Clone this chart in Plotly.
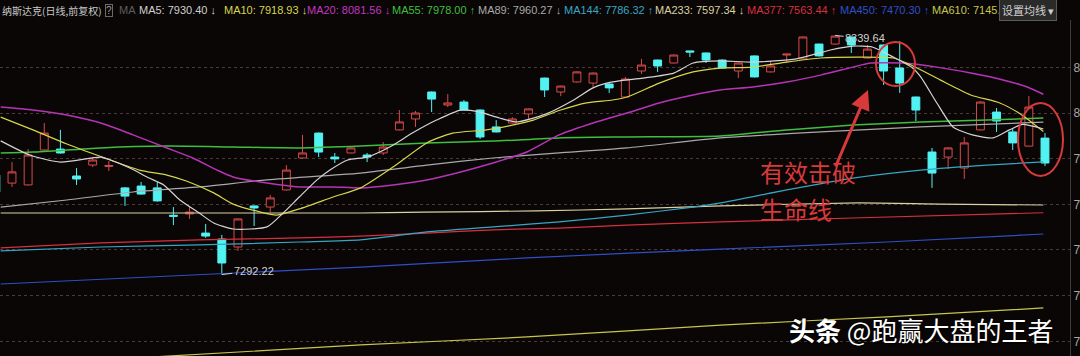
import plotly.graph_objects as go

# ---------------- data ----------------
idx = list(range(-1, 65))
opens = [7728, 7693, 7685, 7838, 7842, 7724, 7772, 7766, 7672, 7680, 7672, 7552, 7558, 7474, 7448, 7413,
         7593, 7588, 7663, 7803, 7912, 7807, 7825, 7816, 7825, 7926, 7974, 8092, 8035, 8048, 8013, 7939,
         7956, 7996, 8153, 8092, 8136, 8131, 8127, 8070, 8184, 8232, 8219, 8272, 8263, 8232, 8184, 8250,
         8180, 8254, 8237, 8302, 8302, 8333, 8241, 8298, 8197, 8070, 7829, 7807, 7759, 7926, 8004, 7917,
         7855, 7890]
highs = [7735, 7785, 7842, 7956, 7926, 7759, 7807, 7790, 7676, 7698, 7698, 7588, 7593, 7514, 7466, 7538,
         7595, 7641, 7772, 7904, 7915, 7825, 7851, 7825, 7873, 8013, 8009, 8094, 8083, 8057, 8016, 7969,
         7982, 8020, 8155, 8120, 8183, 8178, 8130, 8158, 8237, 8234, 8256, 8273, 8265, 8235, 8221, 8252,
         8228, 8259, 8335, 8304, 8339.64, 8335, 8298, 8300, 8315, 8072, 7847, 7850, 7895, 8052, 8022, 7934,
         8074, 7912]
lows = [7640, 7676, 7683, 7836, 7822, 7685, 7763, 7746, 7593, 7642, 7612, 7509, 7536, 7453, 7292.22, 7396,
        7505, 7566, 7660, 7800, 7807, 7781, 7823, 7785, 7816, 7924, 7939, 8004, 8026, 8011, 7886, 7915,
        7954, 7974, 8070, 8074, 8133, 8114, 8088, 8068, 8171, 8180, 8217, 8245, 8219, 8195, 8153, 8156,
        8178, 8219, 8235, 8248, 8300, 8263, 8239, 8123, 8088, 7965, 7672, 7755, 7711, 7924, 7917, 7838,
        7853, 7768]
closes = [7654, 7742, 7816, 7912, 7825, 7711, 7794, 7770, 7636, 7645, 7615, 7548, 7566, 7461, 7343, 7536,
          7584, 7628, 7750, 7825, 7829, 7799, 7847, 7807, 7851, 7961, 8000, 8061, 8044, 8013, 7895, 7917,
          7974, 8018, 8101, 8118, 8180, 8175, 8110, 8149, 8210, 8206, 8254, 8267, 8232, 8197, 8219, 8158,
          8206, 8258, 8333, 8250, 8337, 8298, 8280, 8184, 8131, 8013, 7737, 7847, 7869, 8048, 7965, 7869,
          8026, 7781]

ma5_x = [-0.7, 1.1, 3.0, 5.5, 6.1, 7.3, 8.5, 9.4, 10.4, 11.6, 12.5, 13.7, 15.8, 16.8, 17.8, 18.9, 19.7,
         20.8, 22.0, 23.4, 24.8, 26.3, 27.8, 29.0, 30.2, 31.3, 33.1, 34.8, 36.0, 37.2, 39.1, 41.0, 42.2,
         43.9, 45.9, 48.6, 50.7, 52.1, 53.3, 54.6, 55.8, 56.3, 57.3, 58.3, 59.5, 60.8, 61.8, 62.6, 63.9]
ma5_y = [7878, 7816, 7785, 7807, 7794, 7759, 7715, 7685, 7619, 7562, 7518, 7492, 7501, 7562, 7632, 7707,
         7750, 7794, 7807, 7851, 7912, 7969, 8013, 8004, 7978, 7961, 7996, 8057, 8110, 8136, 8153, 8175,
         8219, 8228, 8223, 8237, 8276, 8293, 8289, 8245, 8197, 8158, 8044, 7939, 7904, 7891, 7926, 7950,
         7930]

ma10_x = [-0.7, 1.3, 3.4, 6.1, 7.9, 9.6, 10.8, 12.5, 13.7, 15.4, 16.4, 17.8, 19.9, 21.6, 23.6, 25.7,
          27.3, 29.4, 31.0, 32.3, 34.0, 35.6, 37.2, 38.1, 40.1, 42.2, 43.9, 45.9, 48.0, 50.1, 52.5, 54.6,
          55.7, 57.5, 59.4, 61.2, 62.5, 63.9]
ma10_y = [7982, 7926, 7864, 7794, 7750, 7728, 7702, 7650, 7601, 7566, 7553, 7580, 7632, 7672, 7763, 7869,
          7912, 7926, 7947, 7969, 8013, 8044, 8057, 8070, 8131, 8180, 8197, 8201, 8223, 8241, 8245, 8241,
          8210, 8145, 8079, 8044, 7995, 7919]

ma20_x = [-0.7, 1.3, 3.4, 5.5, 7.5, 9.6, 11.2, 12.7, 13.7, 15.8, 17.8, 19.9, 21.6, 23.6, 25.7, 27.8,
          29.8, 31.9, 33.9, 36.0, 38.1, 40.1, 42.2, 43.9, 45.9, 48.0, 50.1, 52.1, 53.2, 55.2, 57.3, 59.4,
          61.4, 62.9, 63.9]
ma20_y = [8026, 8013, 7991, 7956, 7904, 7847, 7803, 7750, 7720, 7693, 7676, 7676, 7672, 7685, 7707, 7742,
          7781, 7829, 7904, 7956, 8000, 8044, 8079, 8101, 8114, 8136, 8166, 8201, 8219, 8219, 8201, 8175,
          8145, 8114, 8082]

ma55_x = [-0.7, 1.3, 5.5, 9.6, 13.7, 17.8, 21.6, 25.7, 29.8, 33.9, 38.1, 43.9, 48.0, 52.1, 56.3, 60.4, 63.9]
ma55_y = [7825, 7829, 7847, 7855, 7851, 7847, 7855, 7869, 7877, 7891, 7895, 7899, 7926, 7947, 7961, 7969, 7978]

ma89_x = [-0.7, 3.4, 7.5, 11.6, 15.8, 19.9, 21.6, 25.7, 29.8, 33.9, 38.1, 43.9, 50.1, 56.3, 63.9]
ma89_y = [7588, 7619, 7654, 7676, 7707, 7728, 7737, 7772, 7803, 7825, 7847, 7891, 7917, 7939, 7960]

ma144_x = [-0.7, 5.5, 11.6, 17.8, 21.6, 25.7, 29.8, 33.9, 38.1, 42.2, 43.9, 48.0, 52.1, 56.3, 60.4, 63.9]
ma144_y = [7396, 7413, 7422, 7435, 7444, 7479, 7501, 7523, 7553, 7588, 7606, 7663, 7715, 7750, 7772, 7786]

ma233_x = [-0.7, 21.6, 25.5, 32.5, 38.1, 43.9, 52.4, 57.5, 63.9]
ma233_y = [7562, 7562, 7566, 7571, 7580, 7593, 7606, 7601, 7597]

ma377_x = [-0.7, 5.5, 11.6, 17.8, 21.6, 25.7, 29.8, 33.9, 38.1, 43.9, 52.1, 63.9]
ma377_y = [7409, 7431, 7444, 7453, 7461, 7474, 7488, 7496, 7509, 7523, 7540, 7563]

ma450_x = [-0.7, 21.6, 31.9, 43.9, 54.2, 63.9]
ma450_y = [7251, 7325, 7365, 7404, 7435, 7470]

ma610_x = [8.6, 21.6, 31.9, 43.9, 54.2, 63.9]
ma610_y = [6931, 6984, 7019, 7071, 7107, 7146]

y_ticks = [7000, 7200, 7400, 7600, 7800, 8000, 8200]
y_tick_text = ["7000", "7200", "7400", "7600", "7800", "8000", "8200"]

header_items = [
    ("MA5: 7930.40 ↓", "#cfcfcf"),
    ("MA10: 7918.93 ↓", "#d6d64c"),
    ("MA20: 8081.56 ↓", "#c236c2"),
    ("MA55: 7978.00 ↑", "#3fbf3f"),
    ("MA89: 7960.27 ↓", "#a9a9a9"),
    ("MA144: 7786.32 ↑", "#36a6c4"),
    ("MA233: 7597.34 ↓", "#d9d2a2"),
    ("MA377: 7563.44 ↑", "#d6303e"),
    ("MA450: 7470.30 ↑", "#2f4fc6"),
    ("MA610: 7145.7", "#c6c64e"),
]
header_x = [137, 222, 305, 390, 476, 562, 653, 745, 838, 930]
title_text = "纳斯达克(日线,前复权)"

# ---------------- layout helpers ----------------
W, H = 1080, 356
ML, MR, MT, MB = 0, 10, 20, 0
PW, PH = W - ML - MR, H - MT - MB
BG = "#0a0606"


def fx(px):
    return (px - ML) / PW


def fy(py):
    return 1 - (py - MT) / PH


fig = go.Figure()

fig.add_trace(go.Candlestick(
    x=idx, open=opens, high=highs, low=lows, close=closes,
    increasing=dict(line=dict(color="#d84a4a", width=1), fillcolor=BG),
    decreasing=dict(line=dict(color="#52f2f2", width=1), fillcolor="#52f2f2"),
    whiskerwidth=0, showlegend=False, hoverinfo="skip",
))

lines = [
    (ma610_x, ma610_y, "#c6c64e", 1.2),
    (ma450_x, ma450_y, "#2f4fc6", 1.2),
    (ma377_x, ma377_y, "#d6303e", 1.2),
    (ma233_x, ma233_y, "#d9d2a2", 1.2),
    (ma144_x, ma144_y, "#36a6c4", 1.2),
    (ma89_x, ma89_y, "#a9a9a9", 1.2),
    (ma55_x, ma55_y, "#3fbf3f", 1.5),
    (ma20_x, ma20_y, "#b634b6", 1.5),
    (ma10_x, ma10_y, "#d6d64c", 1.2),
    (ma5_x, ma5_y, "#d4d4d4", 1.2),
]
for xs, ys, c, w in lines:
    fig.add_trace(go.Scatter(x=xs, y=ys, mode="lines", line=dict(color=c, width=w, shape="spline", smoothing=0.6),
                             showlegend=False, hoverinfo="skip"))

annotations = []
CJK = "Noto Sans CJK SC, Liberation Sans, sans-serif"
annotations.append(dict(xref="paper", yref="paper", x=fx(0), y=fy(10), xanchor="left", yanchor="middle",
                        text=title_text, showarrow=False,
                        font=dict(family=CJK, size=10, color="#c8c8c8")))
for (t, c), x in zip(header_items, header_x):
    annotations.append(dict(xref="paper", yref="paper", x=fx(x), y=fy(10), xanchor="left", yanchor="middle",
                            text=t, showarrow=False, font=dict(family="Liberation Sans, " + CJK, size=11, color=c)))
annotations.append(dict(xref="paper", yref="paper", x=fx(105), y=fy(10), xanchor="left", yanchor="middle",
                        text="?", showarrow=False, bordercolor="#6a6a6a", borderwidth=1, borderpad=0,
                        font=dict(family="Liberation Sans", size=10, color="#9a9a9a")))
annotations.append(dict(xref="paper", yref="paper", x=fx(117), y=fy(10), xanchor="left", yanchor="middle",
                        text="MA", showarrow=False, font=dict(family="Liberation Sans", size=11, color="#5e5e5e")))
annotations.append(dict(xref="paper", yref="paper", x=fx(999), y=fy(10), xanchor="left", yanchor="middle",
                        text="设置均线 ▾", showarrow=False, bgcolor="#2a2a2a", bordercolor="#5a5a5a",
                        borderwidth=1, borderpad=2, font=dict(family=CJK, size=11, color="#d0d0d0")))

# low / high labels
annotations.append(dict(x=13, y=7292.22, xref="x", yref="y", text="7292.22", showarrow=True, arrowhead=0,
                        arrowwidth=1, arrowcolor="#d0d0d0", ax=32, ay=-4,
                        font=dict(family="Liberation Sans", size=11, color="#d0d0d0")))
annotations.append(dict(x=51, y=8339.64, xref="x", yref="y", text="8339.64", showarrow=True, arrowhead=0,
                        arrowwidth=1, arrowcolor="#d0d0d0", ax=30, ay=3,
                        font=dict(family="Liberation Sans", size=11, color="#d0d0d0")))

# red commentary
RED = "#d83a3a"
annotations.append(dict(xref="paper", yref="paper", x=fx(868), y=fy(90), ax=835 - 868, ay=168 - 90,
                        axref="pixel", ayref="pixel", text="", showarrow=True, arrowhead=2, arrowsize=1.3,
                        arrowwidth=3, arrowcolor=RED))
annotations.append(dict(xref="paper", yref="paper", x=fx(758), y=fy(171), xanchor="left", yanchor="middle",
                        text="有效击破", showarrow=False, font=dict(family=CJK, size=24, color=RED)))
annotations.append(dict(xref="paper", yref="paper", x=fx(758), y=fy(208), xanchor="left", yanchor="middle",
                        text="生命线", showarrow=False, font=dict(family=CJK, size=24, color=RED)))

# watermark
annotations.append(dict(xref="paper", yref="paper", x=fx(787), y=fy(329), xanchor="left", yanchor="middle",
                        text="<b>头条</b> @跑赢大盘的王者", showarrow=False,
                        font=dict(family=CJK, size=26, color="#ffffff", shadow="1px 1px 2px #000000")))

shapes = [
    dict(type="circle", xref="paper", yref="paper", x0=fx(876), x1=fx(915), y0=fy(86), y1=fy(42),
         line=dict(color=RED, width=2)),
    dict(type="circle", xref="paper", yref="paper", x0=fx(1018), x1=fx(1063), y0=fy(176), y1=fy(103),
         line=dict(color=RED, width=2)),
]

fig.update_layout(
    width=W, height=H, margin=dict(l=ML, r=MR, t=MT, b=MB, pad=0, autoexpand=False),
    paper_bgcolor=BG, plot_bgcolor=BG, showlegend=False,
    annotations=annotations, shapes=shapes, boxgap=0.3,
    xaxis=dict(range=[-0.743, 65.55], visible=False, rangeslider=dict(visible=False), fixedrange=True,
               automargin=False),
    yaxis=dict(range=[6935.6, 8407.4], side="right", tickvals=y_ticks, ticktext=y_tick_text,
               showgrid=True, gridcolor="#4a3a3a", griddash="dot", gridwidth=1, zeroline=False,
               showline=True, linecolor="#3c3c3c", linewidth=1, ticks="", automargin=False,
               tickfont=dict(family="Liberation Sans", size=12, color="#a8a8a8"), fixedrange=True),
)

fig.write_html("out.html")
